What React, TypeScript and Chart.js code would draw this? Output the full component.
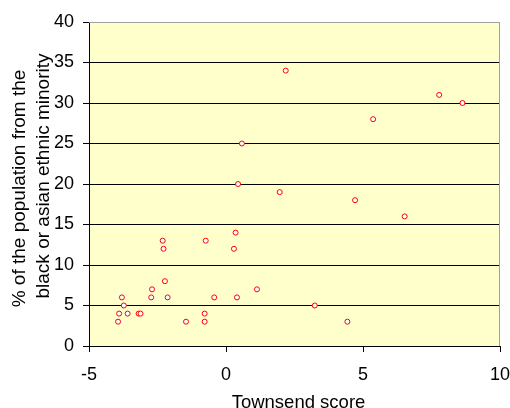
import React, { useEffect, useRef } from "react";
import { Chart, registerables } from "chart.js";

Chart.register(...registerables);

const townsendScores: number[] = [
  2.18, 0.58, 0.44, 7.78, 8.63, 5.37, 1.96, 0.35, -2.31, -0.74, -2.28, 0.29,
  -2.23, -2.7, 1.13, -3.8, -2.73, -2.13, -0.43, 0.4, -3.73, -3.9, -3.59,
  -3.19, -3.12, -0.78, -3.94, -1.46, -0.78, 4.71, 6.52, 3.24, 4.43,
];
const minorityPercent: number[] = [
  34, 25, 20, 31, 30, 28, 19, 14, 13, 13, 12, 12, 8, 7, 7, 6, 6, 6, 6, 6, 5, 4,
  4, 4, 4, 4, 3, 3, 3, 18, 16, 5, 3,
];
const xTitle = "Townsend score";
const yTitleLines = ["% of the population from the", "black or asian ethnic minority"];

const FONT = "'Liberation Sans', Arial, sans-serif";

const plotBg = {
  id: "plotBg",
  beforeDraw(chart: any) {
    const { ctx, chartArea } = chart;
    ctx.save();
    ctx.fillStyle = "#FFFFCC";
    ctx.fillRect(chartArea.left, chartArea.top, chartArea.right - chartArea.left, chartArea.bottom - chartArea.top);
    ctx.restore();
  },
  afterDatasetsDraw(chart: any) {
    const { ctx, chartArea } = chart;
    ctx.save();
    ctx.strokeStyle = "#A0A0A0";
    ctx.lineWidth = 1;
    ctx.beginPath();
    ctx.moveTo(chartArea.left, chartArea.top + 0.5);
    ctx.lineTo(chartArea.right - 0.5, chartArea.top + 0.5);
    ctx.lineTo(chartArea.right - 0.5, chartArea.bottom);
    ctx.stroke();

    // axis titles
    ctx.fillStyle = "#000";
    ctx.textAlign = "center";
    ctx.textBaseline = "alphabetic";
    ctx.font = `18.5px ${FONT}`;
    const midX = (chartArea.left + chartArea.right) / 2;
    ctx.fillText(xTitle, midX + 4, 407.5);

    ctx.font = `19px ${FONT}`;
    const baselines = [25, 49];
    const centers = [188.5, 176];
    yTitleLines.forEach((line, i) => {
      ctx.save();
      ctx.translate(baselines[i], centers[i]);
      ctx.rotate(-Math.PI / 2);
      ctx.fillText(line, 0, 0);
      ctx.restore();
    });
    ctx.restore();
  },
};

export default function App() {
  const ref = useRef<HTMLCanvasElement>(null);
  useEffect(() => {
    if (!ref.current) return;
    const data = townsendScores.map((x, i) => ({ x, y: minorityPercent[i] }));
    const chart = new Chart(ref.current, {
      type: "scatter",
      data: {
        datasets: [
          {
            data,
            pointRadius: 2.5,
            pointBorderWidth: 1,
            pointBorderColor: "#FF0000",
            pointBackgroundColor: "#FFFFFF",
          },
        ],
      },
      plugins: [plotBg],
      options: {
        animation: false,
        responsive: false,
        layout: { padding: { top: 22, right: 10, left: 0, bottom: 0 } },
        plugins: { legend: { display: false }, tooltip: { enabled: false } },
        scales: {
          x: {
            type: "linear",
            min: -5,
            max: 10,
            ticks: { stepSize: 5, color: "#000", font: { family: FONT, size: 18 }, padding: 12 },
            grid: { drawOnChartArea: false, drawTicks: true, tickLength: 6, color: "#000" },
            border: { color: "#000" },
            afterFit: (s: any) => {
              s.height = 62;
              s.paddingLeft = 0;
              s.paddingRight = 0;
              s.paddingTop = 0;
              s.paddingBottom = 0;
            },
          },
          y: {
            type: "linear",
            min: 0,
            max: 40,
            ticks: { stepSize: 5, color: "#000", font: { family: FONT, size: 18 }, padding: 9 },
            grid: {
              color: (c: any) => (c.tick && c.tick.value === 40 ? "#A0A0A0" : "#000"),
              tickColor: "#000",
              tickLength: 6,
            },
            border: { color: "#000" },
            afterFit: (s: any) => {
              s.width = 89;
              s.paddingLeft = 0;
              s.paddingRight = 0;
              s.paddingTop = 0;
              s.paddingBottom = 0;
            },
          },
        },
      },
    });
    return () => chart.destroy();
  }, []);
  return (
    <div style={{ position: "fixed", left: 0, top: 0, width: 510, height: 408, background: "#fff" }}>
      <canvas ref={ref} width={510} height={408} />
    </div>
  );
}
